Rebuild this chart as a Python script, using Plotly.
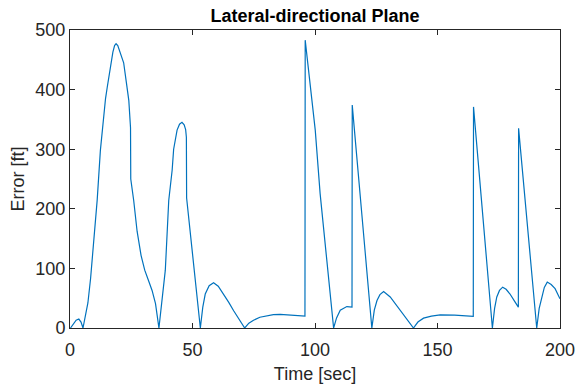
import plotly.graph_objects as go

time_s = [0.2, 1.5, 2.5, 3.6, 4.5, 5.3, 6.3, 7.3, 8.4, 9.7, 11.1, 12.4, 13.1, 14.5, 15.2,
          16.5, 17.5, 18.2, 18.8, 19.5, 20.5, 21.9, 23.0, 24.0, 24.7, 24.8, 26.0, 27.4,
          29.0, 30.5, 32.0, 33.5, 34.9, 35.8, 36.3, 38.9, 40.3, 41.7, 42.3, 43.7, 44.7,
          45.7, 46.6, 47.2, 47.5, 47.6, 49.3, 51.3, 53.2, 54.2, 55.2, 56.8, 58.6, 60.5,
          62.7, 64.8, 66.8, 69.0, 71.3, 73.0, 74.9, 77.5, 80.4, 83.0, 85.8, 90.0, 95.9,
          96.0, 98.0, 100.1, 102.1, 104.9, 107.6, 108.8, 110.3, 113.0, 115.1, 115.2,
          118.5, 123.2, 124.2, 125.3, 126.5, 128.0, 130.7, 134.8, 137.5, 140.2, 142.0,
          144.3, 147.5, 151.1, 157.0, 164.6, 164.7, 168.7, 172.4, 173.3, 174.2, 175.3,
          176.6, 178.0, 179.6, 181.3, 183.0, 183.1, 186.4, 190.5, 191.5, 192.5, 193.6,
          194.8, 196.4, 198.0, 200.0]
error_ft = [0, 8, 13, 15, 10, 0, 20, 42, 83, 145, 215, 298, 332, 385, 404,
            440, 463, 474, 477, 474, 462, 445, 412, 382, 336, 250, 214, 162,
            122, 97, 80, 63, 41, 18, 0, 97, 214, 265, 300, 332, 342,
            345, 341, 333, 320, 218, 150, 72, 0, 35, 57, 71, 76, 70,
            57, 43, 29, 15, 0, 8, 13, 18, 21, 22.5, 22.7, 22, 20,
            483, 410, 332, 225, 108, 0, 17, 30, 36, 35, 374,
            220, 0, 30, 46, 56, 61, 52, 30, 15, 0, 10,
            16.5, 20, 22, 21.5, 19.5, 371, 176, 0, 33, 52, 63,
            68.5, 65, 57, 46, 35, 335, 180, 0, 33, 52, 68,
            77, 73, 66, 49]

x_ticks = [0, 50, 100, 150, 200]
y_ticks = [0, 100, 200, 300, 400, 500]

title_text = "Lateral-directional Plane"
x_label = "Time [sec]"
y_label = "Error [ft]"

FONT = "Liberation Sans, Arial, Helvetica, sans-serif"
AXC = "#262626"

fig = go.Figure()
fig.add_trace(go.Scatter(x=time_s, y=error_ft, mode="lines",
                         line=dict(color="#0072BD", width=1.2),
                         showlegend=False, hoverinfo="skip"))

axis_common = dict(showline=True, linecolor=AXC, linewidth=1, mirror="allticks",
                   ticks="inside", ticklen=5, tickwidth=1, tickcolor=AXC,
                   showgrid=False, zeroline=False, automargin=False,
                   tickfont=dict(family=FONT, size=18, color=AXC))

fig.update_layout(
    width=576, height=389,
    margin=dict(l=69.5, r=16, t=30, b=61, autoexpand=False),
    paper_bgcolor="white", plot_bgcolor="white",
    font=dict(family=FONT, color=AXC),
    title=dict(text="<b>" + title_text + "</b>", x=0.5, xref="paper", xanchor="center",
               y=1 - 16 / 389, yref="container", yanchor="middle",
               font=dict(family=FONT, size=18, color="#000000")),
    xaxis=dict(range=[0, 200], tickvals=x_ticks, ticktext=[str(v) for v in x_ticks],
               ticklabelstandoff=5,
               title=dict(text=x_label, font=dict(family=FONT, size=18, color=AXC), standoff=8),
               **axis_common),
    yaxis=dict(range=[0, 500], tickvals=y_ticks, ticktext=[str(v) for v in y_ticks],
               title=dict(text=y_label, font=dict(family=FONT, size=18, color=AXC), standoff=6),
               **axis_common),
)

fig.write_html("out.html")
